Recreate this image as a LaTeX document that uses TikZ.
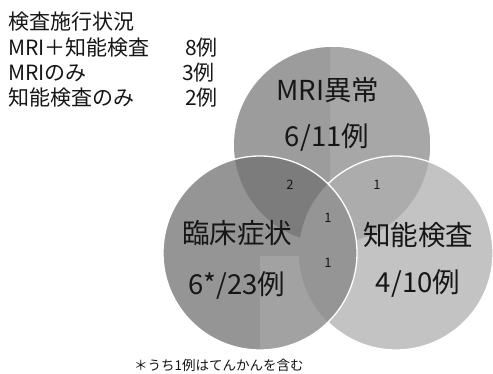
\documentclass[tikz,border=0pt]{standalone}
\usepackage{fontspec}
\setmainfont{Noto Sans CJK JP}
\definecolor{topA}{HTML}{9C9C9C}
\definecolor{topB}{HTML}{A7A7A7}
\definecolor{rightc}{HTML}{C3C3C3}
\definecolor{toprc}{HTML}{ACACAC}
\definecolor{leftc}{HTML}{959595}
\definecolor{leftq}{HTML}{A2A2A2}
\definecolor{topleftc}{HTML}{7C7C7C}
\definecolor{txt}{HTML}{161616}
\begin{document}
\begin{tikzpicture}[x=1pt,y=-1pt,
  listtxt/.style={anchor=west,inner sep=0pt,text=txt,font=\fontsize{21}{21}\selectfont},
  bigtxt/.style={inner sep=0pt,text=txt,font=\fontsize{27.5}{27.5}\selectfont},
  smalltxt/.style={inner sep=0pt,text=txt,font=\fontsize{13}{13}\selectfont},
  notetxt/.style={anchor=west,inner sep=0pt,text=txt,font=\fontsize{13.5}{13.5}\selectfont},
  edge/.style={draw=white,line width=1.3pt}]
\useasboundingbox (0,0) rectangle (493,374);
\fill[white] (0,0) rectangle (493,374);
\coordinate (cT) at (332,145);
\coordinate (cL) at (260,253);
\coordinate (cR) at (396,253);
% top circle
\fill[topA] (cT) circle (98);
\begin{scope}
  \clip (cT) circle (98);
  \fill[topB] (330,40) rectangle (440,250);
\end{scope}
% right circle
\fill[rightc] (cR) circle (97);
\begin{scope}
  \clip (cT) circle (98);
  \fill[toprc] (cR) circle (97);
\end{scope}
\draw[edge] (cR) circle (97);
% left circle
\fill[leftc] (cL) circle (97);
\begin{scope}
  \clip (cL) circle (97);
  \fill[leftq] (260,256) rectangle (360,360);
  \begin{scope}
    \clip (cT) circle (98);
    \fill[topleftc] (cL) circle (97);
  \end{scope}
  \fill[leftc] (cR) circle (97);
\end{scope}
\draw[edge] (cL) circle (97);
% list text
\node[listtxt] (h0) at (8,22) {検査施行状況};
\node[listtxt] (h1) at (8,48) {MRI＋知能検査};
\node[listtxt] (n1) at (185,48) {8例};
\node[listtxt] (h2) at (8,73) {MRIのみ};
\node[listtxt] (n2) at (182,73) {3例};
\node[listtxt] (h3) at (8,98) {知能検査のみ};
\node[listtxt] (n3) at (185,98) {2例};
% circle labels
\node[bigtxt] (tA) at (328,90) {MRI異常};
\node[bigtxt] (tB) at (327,137) {6/11例};
\node[bigtxt] (lA) at (237,233) {臨床症状};
\node[bigtxt] (lB) at (237,285) {6*/23例};
\node[bigtxt] (rA) at (418,235) {知能検査};
\node[bigtxt] (rB) at (418,283) {4/10例};
% overlap counts
\node[smalltxt] (o1) at (290,185) {2};
\node[smalltxt] (o2) at (377,185) {1};
\node[smalltxt] (o3) at (328,218) {1};
\node[smalltxt] (o4) at (328,263) {1};
% footnote
\node[notetxt] (fn) at (134,365) {＊うち1例はてんかんを含む};
\end{tikzpicture}
\end{document}
